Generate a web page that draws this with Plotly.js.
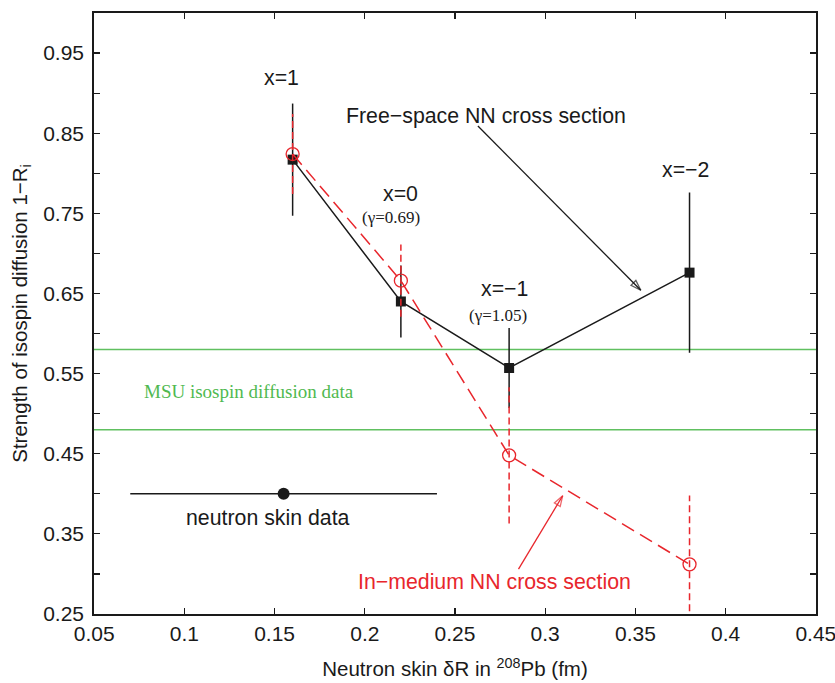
<!DOCTYPE html>
<html>
<head>
<meta charset="utf-8">
<script src="https://cdn.plot.ly/plotly-3.0.1.min.js"></script>
<style>html,body{margin:0;padding:0;background:#fff;}#chart{width:835px;height:683px;}</style>
</head>
<body>
<div id="chart"></div>
<script>
// ---- data ----
const freeX = [0.16, 0.22, 0.28, 0.38];
const freeY = [0.817, 0.640, 0.557, 0.676];
const freeErr = [0.070, 0.045, 0.050, 0.100];

const medX = [0.16, 0.22, 0.28, 0.38];
const medY = [0.824, 0.666, 0.448, 0.312];
const medErr = [0.050, 0.045, 0.085, 0.086];

const msuBand = [0.48, 0.58];

const skinX = [0.155];
const skinY = [0.40];
const skinErr = [0.085];

const yTickVals = [0.25, 0.35, 0.45, 0.55, 0.65, 0.75, 0.85, 0.95];
const yTickText = ['0.25', '0.35', '0.45', '0.55', '0.65', '0.75', '0.85', '0.95'];
const xTickVals = [0.05, 0.1, 0.15, 0.2, 0.25, 0.3, 0.35, 0.4, 0.45];
const xTickText = ['0.05', '0.1', '0.15', '0.2', '0.25', '0.3', '0.35', '0.4', '0.45'];

// arrow endpoints [tail, tip]
const freeArrowX = [0.2627, 0.353];
const freeArrowY = [0.859, 0.654];
const medArrowX = [0.2852, 0.3097];
const medArrowY = [0.306, 0.3976];

const RED = 'rgb(232,38,44)';
const BLACK = '#1a1a1a';
const GREEN = 'rgb(96,192,96)';
const SANS = 'Liberation Sans, Arial, sans-serif';
const SERIF = 'Liberation Serif, Times New Roman, serif';

// red dashed error bar segments built from data
const medErrXs = [], medErrYs = [];
for (let i = 0; i < medX.length; i++) {
  medErrXs.push(medX[i], medX[i], null);
  medErrYs.push(medY[i] - medErr[i], medY[i] + medErr[i], null);
}

const traces = [
  {
    x: freeX, y: freeY, type: 'scatter', mode: 'lines+markers',
    line: {color: BLACK, width: 1.5},
    marker: {symbol: 'square', size: 10, color: BLACK},
    error_y: {type: 'data', array: freeErr, visible: true, color: BLACK, thickness: 1.5, width: 0},
    showlegend: false, hoverinfo: 'skip'
  },
  {
    x: medErrXs, y: medErrYs, type: 'scatter', mode: 'lines',
    line: {color: RED, width: 1.5, dash: '7px,4px'},
    showlegend: false, hoverinfo: 'skip'
  },
  {
    x: medX, y: medY, type: 'scatter', mode: 'lines+markers',
    line: {color: RED, width: 1.5, dash: '14px,7px'},
    marker: {symbol: 'circle-open', size: 13, color: RED, line: {width: 1.3}},
    showlegend: false, hoverinfo: 'skip'
  },
  {
    x: skinX, y: skinY, type: 'scatter', mode: 'markers',
    marker: {symbol: 'circle', size: 12, color: BLACK},
    error_x: {type: 'data', array: skinErr, visible: true, color: BLACK, thickness: 1.5, width: 0},
    showlegend: false, hoverinfo: 'skip'
  },
  {
    x: freeArrowX, y: freeArrowY, type: 'scatter', mode: 'lines+markers',
    line: {color: BLACK, width: 1.3},
    marker: {symbol: ['line-ns', 'arrow-open'], size: [0, 11], angleref: 'previous', color: BLACK, line: {color: BLACK, width: 1.3}},
    cliponaxis: false, showlegend: false, hoverinfo: 'skip'
  },
  {
    x: medArrowX, y: medArrowY, type: 'scatter', mode: 'lines+markers',
    line: {color: RED, width: 1.3},
    marker: {symbol: ['line-ns', 'arrow-open'], size: [0, 11], angleref: 'previous', color: RED, line: {color: RED, width: 1.3}},
    cliponaxis: false, showlegend: false, hoverinfo: 'skip'
  }
];

const shapes = msuBand.map(v => ({
  type: 'line', xref: 'paper', yref: 'y', x0: 0, x1: 1, y0: v, y1: v,
  line: {color: GREEN, width: 1.5}, layer: 'below'
}));

function ann(text, x, y, font) {
  return {text: text, x: x, y: y, xref: 'x', yref: 'y', showarrow: false,
          xanchor: 'center', yanchor: 'middle', font: font};
}
const fA = {family: SANS, size: 21.3, color: BLACK};
const annotations = [
  ann('x=1', 0.154, 0.919, fA),
  ann('Free\u2212space NN cross section', 0.267, 0.871, fA),
  ann('x=0', 0.2199, 0.774, fA),
  ann('(\u03b3=0.69)', 0.2146, 0.745, {family: SERIF, size: 17, color: BLACK}),
  ann('x=\u22121', 0.2773, 0.6556, fA),
  ann('(\u03b3=1.05)', 0.2741, 0.623, {family: SERIF, size: 17, color: BLACK}),
  ann('x=\u22122', 0.3776, 0.804, fA),
  ann('MSU isospin diffusion data', 0.1358, 0.528, {family: SERIF, size: 19, color: 'rgb(80,185,80)'}),
  ann('neutron skin data', 0.1465, 0.37, fA),
  ann('In\u2212medium NN cross section', 0.272, 0.29, {family: SANS, size: 21.3, color: RED})
];

const layout = {
  width: 835, height: 683,
  margin: {l: 94, r: 19, t: 13, b: 69},
  paper_bgcolor: '#fff', plot_bgcolor: '#fff',
  showlegend: false,
  font: {family: SANS, size: 20, color: BLACK},
  xaxis: {
    range: [0.0499, 0.4501], tickvals: xTickVals, ticktext: xTickText,
    ticks: 'inside', ticklen: 6, tickwidth: 1.2, tickcolor: BLACK,
    showline: true, linecolor: BLACK, linewidth: 1.8, mirror: 'ticks',
    showgrid: false, zeroline: false,
    ticklabeloverflow: 'allow',
    tickfont: {family: SANS, size: 21, color: BLACK},
    title: {text: 'Neutron skin \u03b4R in <sup>208</sup>Pb (fm)', font: {family: SANS, size: 20.5, color: BLACK}, standoff: 18}
  },
  yaxis: {
    range: [0.25, 1.0], tickvals: yTickVals, ticktext: yTickText,
    ticks: 'inside', ticklen: 6, tickwidth: 1.2, tickcolor: BLACK,
    showline: true, linecolor: BLACK, linewidth: 1.8, mirror: 'ticks',
    showgrid: false, zeroline: false,
    minor: {ticks: 'inside', ticklen: 6, tickwidth: 1.2, tickcolor: BLACK, tick0: 0.25, dtick: 0.05, showgrid: false},
    tickfont: {family: SANS, size: 21, color: BLACK},
    ticklabelstandoff: 4,
    title: {text: 'Strength of isospin diffusion 1\u2212R<sub>i</sub>', font: {family: SANS, size: 20.5, color: BLACK}, standoff: 10}
  },
  shapes: shapes,
  annotations: annotations
};

Plotly.newPlot('chart', traces, layout, {staticPlot: true, displayModeBar: false});
</script>
</body>
</html>
